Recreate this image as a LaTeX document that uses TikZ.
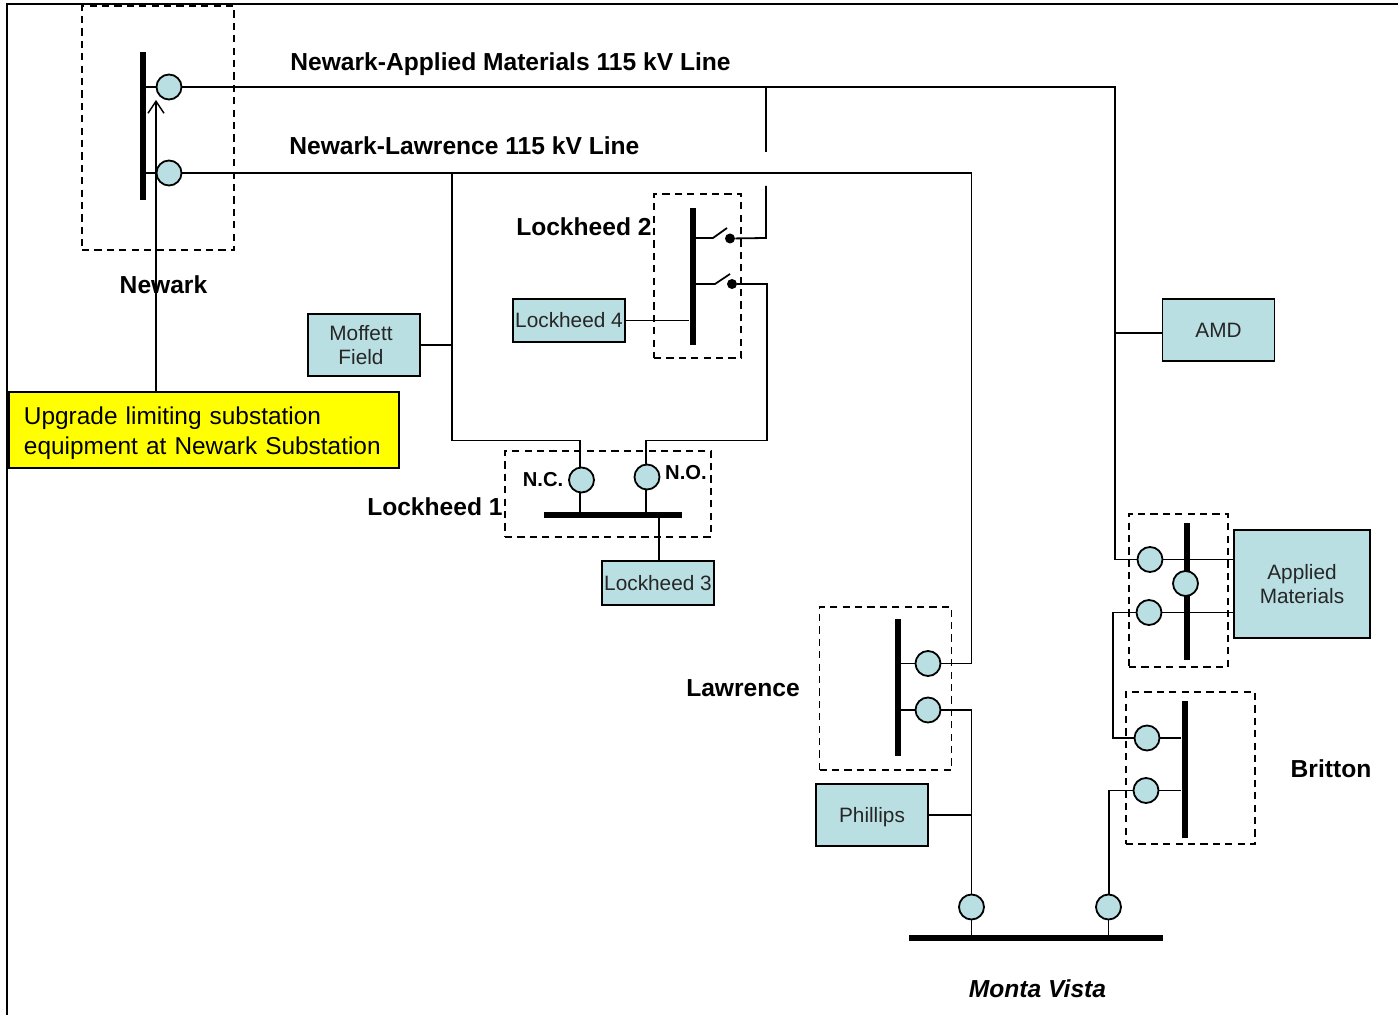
\documentclass[tikz,border=0pt]{standalone}
\usepackage{fontspec}
\setmainfont{Liberation Sans}
\usepackage{xcolor}
\usetikzlibrary{arrows.meta,positioning}
\definecolor{loadblue}{HTML}{B9DFE2}
\definecolor{notehigh}{HTML}{FFFF00}

\begin{document}
\begin{tikzpicture}[
    x=0.5pt, y=-0.5pt,
    >={Straight Barb[length=6pt,width=8pt]},
    wire/.style={draw, line width=0.9pt, line join=miter},
    station/.style={draw, dashed, dash pattern=on 3.6pt off 2.6pt, line width=0.85pt, inner sep=0pt},
    breaker/.style={draw, circle, fill=loadblue, line width=0.9pt, minimum size=12.5pt, inner sep=0pt},
    vbus/.style={fill=black, inner sep=0pt, minimum width=3pt},
    hbus/.style={fill=black, inner sep=0pt, minimum height=3pt},
    load/.style={draw, fill=loadblue, line width=0.9pt, align=center, inner sep=0pt, text=black!85, font=\fontsize{10.4}{12.4}\selectfont},
    note/.style={draw, fill=notehigh, line width=0.9pt, align=left, inner sep=0pt, font=\fontsize{12.2}{15}\selectfont},
    label/.style={font=\fontsize{12.3}{14}\selectfont\bfseries, inner sep=0pt},
    smalllabel/.style={font=\fontsize{10.1}{12}\selectfont\bfseries, inner sep=0pt},
    contact/.style={circle, fill=black, minimum size=5pt, inner sep=0pt}
]
\useasboundingbox (0,0) rectangle (1398,1015);

% Page frame, open at the right and at the bottom.
\coordinate (frameLow) at (7,1015);
\coordinate (frameCorner) at (7,4);
\coordinate (frameEnd) at (1398,4);
\draw[line width=1pt] (frameLow) -- (frameCorner) -- (frameEnd);

% Dashed substation outlines.
\node[station, minimum width=76pt, minimum height=122pt] (newarkBox) at (158,128) {};
\node[station, minimum width=43.5pt, minimum height=82pt] (lock2Box) at (697.5,276) {};
\node[station, minimum width=103pt, minimum height=43pt] (lock1Box) at (608,494) {};
\node[station, minimum width=66pt, minimum height=81.5pt] (lawrenceBox) at (885.5,688.5) {};
\node[station, minimum width=49.5pt, minimum height=76.5pt] (appliedBox) at (1178.5,590.5) {};
\node[station, minimum width=64.5pt, minimum height=76pt] (brittonBox) at (1190.5,768) {};

% Bus bars.
\node[vbus, minimum height=74pt] (newarkBus) at (142.5,126) {};
\node[vbus, minimum height=68.5pt] (lock2Bus) at (692.5,276.5) {};
\node[hbus, minimum width=69pt] (lock1Bus) at (613,515) {};
\node[vbus, minimum height=68.5pt] (lawrenceBus) at (898,687.5) {};
\node[vbus, minimum height=68.5pt] (appliedBus) at (1187,591.5) {};
\node[vbus, minimum height=68.5pt] (brittonBus) at (1184.5,769.5) {};
\node[hbus, minimum width=127pt] (montaBus) at (1036,938) {};

% Loads and the note.
\node[load, minimum width=56pt, minimum height=31pt] (moffett) at (364,345) {Moffett\hspace*{3pt}\\Field\hspace*{3pt}};
\node[load, minimum width=56pt, minimum height=21.5pt] (lock4) at (569,320.5) {Lockheed 4};
\node[load, minimum width=56pt, minimum height=22pt] (lock3) at (658,583) {Lockheed 3};
\node[load, minimum width=56pt, minimum height=31pt] (amd) at (1218.5,330) {AMD};
\node[load, minimum width=68pt, minimum height=54pt] (applied) at (1302,584) {Applied\\Materials};
\node[load, minimum width=56pt, minimum height=31pt, text depth=0pt] (phillips) at (872,815) {Phillips};
\node[note, minimum width=195pt, minimum height=38pt, text width=180pt] (upgrade) at (204,430) {\rule{0pt}{12pt}Upgrade limiting substation\\equipment at Newark Substation};

% Breakers.
\node[breaker] (newarkTop) at (169,87) {};
\node[breaker] (newarkLow) at (169,173) {};
\node[breaker] (lock1NC) at (581.5,480) {};
\node[breaker] (lock1NO) at (647,477) {};
\node[breaker] (lawrenceTop) at (928,663.5) {};
\node[breaker] (lawrenceLow) at (928,710) {};
\node[breaker] (appliedTop) at (1150,559.5) {};
\node[breaker] (appliedLow) at (1149,612.5) {};
\node[breaker] (appliedTie) at (1185.5,583.5) {};
\node[breaker] (brittonTop) at (1147,738) {};
\node[breaker] (brittonLow) at (1146,790.5) {};
\node[breaker] (montaLeft) at (971.5,907) {};
\node[breaker] (montaRight) at (1108.5,907) {};

% Open switches at Lockheed 2.
\node[contact] (switchTop) at (730,238.5) {};
\node[contact] (switchLow) at (732,284) {};
\coordinate (bladeTopA) at (713,238);
\coordinate (bladeTopB) at (727,228);
\coordinate (bladeLowA) at (715,284);
\coordinate (bladeLowB) at (730,274);
\draw[wire] (lock2Bus.east |- bladeTopA) -- (bladeTopA) -- (bladeTopB);
\draw[wire] (lock2Bus.east |- bladeLowA) -- (bladeLowA) -- (bladeLowB);

% Bends and line breaks.
\coordinate (lineCorner) at (1115,87);
\coordinate (lawCorner) at (971.5,173);
\coordinate (tapLawrence) at (452,173);
\coordinate (tapCorner) at (452,440.5);
\coordinate (ncTop) at (580,440.5);
\coordinate (noTop) at (646,440.5);
\coordinate (noCorner) at (767,440.5);
\coordinate (sw2Corner) at (767,284);
\coordinate (sw1Corner) at (766,238);
\coordinate (breakLow) at (766,186);
\coordinate (breakHigh) at (766,152);
\coordinate (breakTop) at (766,88);

% Newark lines.
\draw[wire] (newarkBus.east |- newarkTop) -- (newarkTop.west);
\draw[wire] (newarkBus.east |- newarkLow) -- (newarkLow.west);
\draw[wire] (newarkTop.east) -- (lineCorner) -- (lineCorner |- appliedTop) -- (appliedTop.west);
\draw[wire] (newarkLow.east) -- (lawCorner) -- (lawCorner |- lawrenceTop) -- (lawrenceTop.east);
\draw[wire] (breakTop) -- (breakHigh);

% Lockheed tap.
\draw[wire] (tapLawrence) -- (tapCorner) -- (ncTop) -- (ncTop |- lock1NC.north);
\draw[wire] (breakLow) -- (sw1Corner) -- (switchTop);
\draw[wire] (switchLow) -- (sw2Corner) -- (noCorner) -- (noTop) -- (lock1NO.north -| noTop);
\draw[wire] (lock1NC.south -| ncTop) -- (ncTop |- lock1Bus.north);
\draw[wire] (lock1NO.south -| noTop) -- (noTop |- lock1Bus.north);
\draw[wire] (moffett.east) -- (moffett.east -| tapCorner);
\draw[wire] (lock4.east) -- (lock4.east -| lock2Bus.west);
\draw[wire] (lock3.north -| 659,561) -- (659,515);
\draw[wire] (amd.west |- 0,333) -- (lineCorner |- 0,333);

% Lawrence and Monta Vista.
\draw[wire] (lawrenceBus.east |- lawrenceTop) -- (lawrenceTop.west);
\draw[wire] (lawrenceBus.east |- lawrenceLow) -- (lawrenceLow.west);
\draw[wire] (lawrenceLow.east) -- (montaLeft |- lawrenceLow) -- (montaLeft.north);
\draw[wire] (phillips.east) -- (phillips.east -| montaLeft);
\draw[wire] (montaLeft.south) -- (montaLeft |- montaBus.north);
\draw[wire] (montaRight.south) -- (montaRight |- montaBus.north);

% Applied Materials and Britton.
\draw[wire] (appliedTop.east) -- (appliedTop.east -| applied.west);
\draw[wire] (appliedLow.east) -- (appliedLow.east -| applied.west);
\coordinate (appliedDrop) at (1113,612.5);
\coordinate (brittonDrop) at (1109,790.5);
\draw[wire] (appliedLow.west) -- (appliedDrop) -- (appliedDrop |- brittonTop) -- (brittonTop.west);
\draw[wire] (brittonTop.east) -- (brittonBus.west |- brittonTop);
\draw[wire] (brittonLow.east) -- (brittonBus.west |- brittonLow);
\draw[wire] (brittonLow.west) -- (brittonDrop) -- (montaRight.north -| brittonDrop);

% Pointer from the note to the Newark breaker.
\draw[->, line width=0.7pt] (upgrade.north -| 156,392) -- (156,100);

% Labels.
\node[label, anchor=west] (lineApplied) at (290,64) {Newark-Applied Materials 115 kV Line};
\node[label, anchor=west] (lineLawrence) at (289,146) {Newark-Lawrence 115 kV Line};
\node[label] (newarkLabel) at (163.5,285) {Newark};
\node[label, anchor=east] (lock2Label) at (652,227) {Lockheed 2};
\node[label, anchor=east] (lock1Label) at (503,507) {Lockheed 1};
\node[smalllabel] (ncLabel) at (543,480) {N.C.};
\node[smalllabel] (noLabel) at (686,473) {N.O.};
\node[label] (lawrenceLabel) at (743,688.5) {Lawrence};
\node[label] (brittonLabel) at (1331,769) {Britton};
\node[label, font=\fontsize{12.3}{14}\selectfont\bfseries\itshape] (montaLabel) at (1037.5,989) {Monta Vista};
\end{tikzpicture}
\end{document}
